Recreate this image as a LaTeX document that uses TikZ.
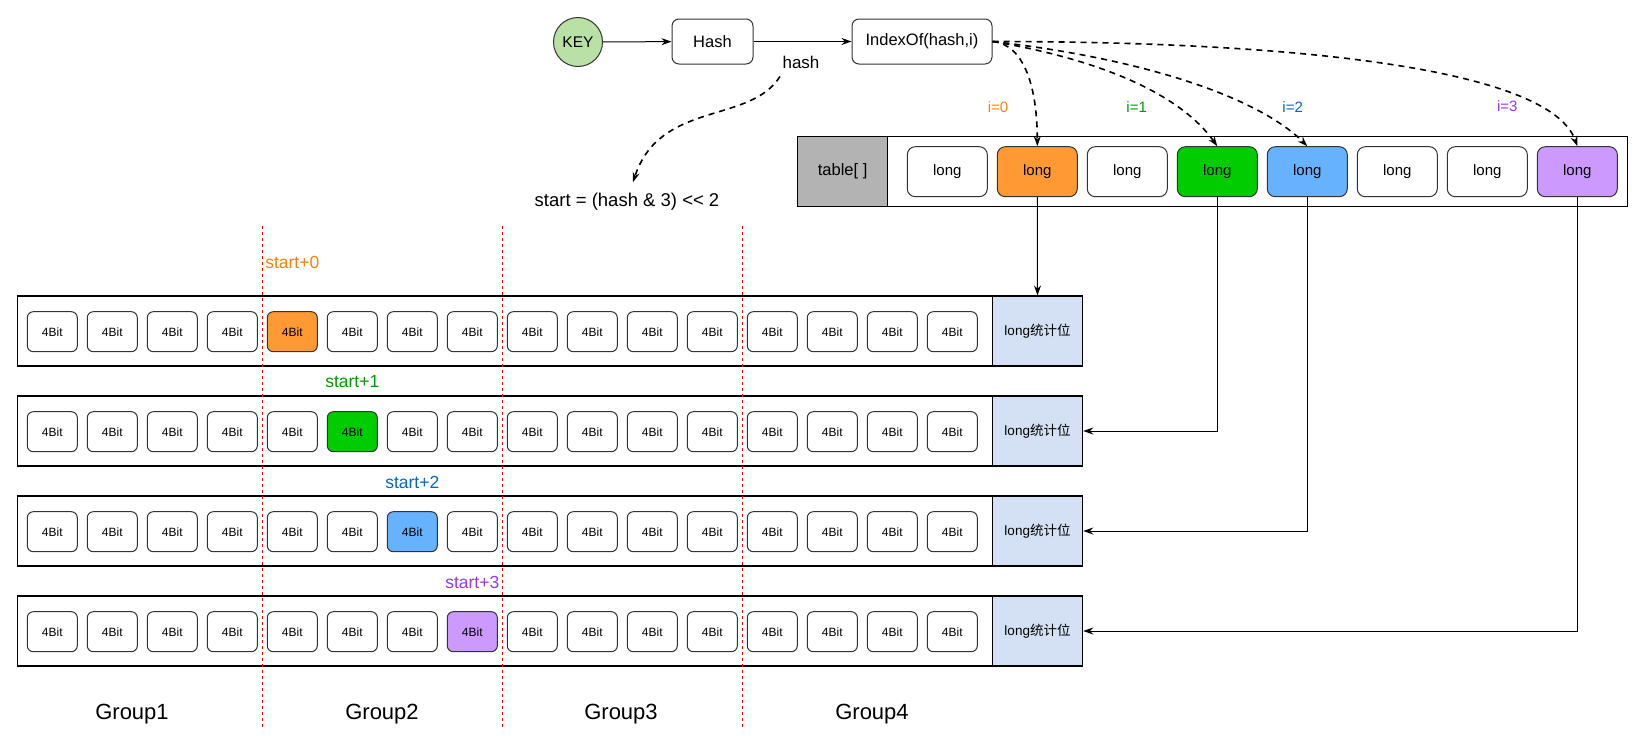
\documentclass[tikz,border=0pt]{standalone}
\usepackage{fontspec}
\setmainfont{Liberation Sans}
\newfontfamily\cjk{Noto Sans CJK SC}
\usetikzlibrary{arrows.meta,positioning,calc}

\definecolor{keyfill}{HTML}{B9E0A5}
\definecolor{orangec}{HTML}{FF9933}
\definecolor{greenc}{HTML}{00CC00}
\definecolor{bluec}{HTML}{66B2FF}
\definecolor{purplec}{HTML}{CC99FF}
\definecolor{orangeT}{HTML}{FF8000}
\definecolor{greenT}{HTML}{009900}
\definecolor{blueT}{HTML}{0066CC}
\definecolor{purpleT}{HTML}{9933FF}
\definecolor{cntfill}{HTML}{D4E1F5}
\definecolor{namefill}{HTML}{B3B3B3}

\newcommand{\fs}[1]{\fontsize{#1}{#1}\selectfont}

\begin{document}
\begin{tikzpicture}
                    [x=1pt,y=-1pt,>={Stealth[length=10pt,width=7pt]},
                     box/.style={draw=black!80,line width=1pt,rounded corners=7pt,inner sep=0pt},
                     bitbox/.style={box,rounded corners=6pt,minimum width=50pt,minimum height=40pt,font=\fs{12}},
                     longbox/.style={box,rounded corners=8pt,minimum width=80pt,minimum height=50pt,font=\fs{15}},
                     rowbox/.style={draw,line width=1.1pt,minimum width=1065.4pt,minimum height=70pt,inner sep=0pt},
                     cntbox/.style={draw,line width=1.1pt,fill=cntfill,minimum width=90.4pt,minimum height=70pt,inner sep=0pt,font=\fs{13.5}},
                     txt/.style={inner sep=0pt,font=\fs{16.5}},
                     ilbl/.style={inner sep=0pt,font=\fs{15}},
                     stlbl/.style={inner sep=0pt,font=\fs{17.5}},
                     dcurve/.style={->,line width=1.6pt,dash pattern=on 6pt off 5pt},
                     conn/.style={->,line width=1pt},
                     grpline/.style={red,line width=0.9pt,dash pattern=on 3pt off 3pt}]

                \useasboundingbox (0,0) rectangle (1644,744);

                % key -> hash -> index
                \node[circle,draw=black!80,line width=1pt,fill=keyfill,minimum size=49pt,inner sep=0pt,font=\fs{15.5}] (key) at (578,42) {KEY};
                \node[box,minimum width=81pt,minimum height=45pt,font=\fs{16.5}] (hash) at (712.5,41.5) {Hash};
                \node[box,minimum width=140pt,minimum height=45pt,font=\fs{16.5}] (idx) at (922,41.5) {IndexOf(hash,i)};
                \draw[conn] (key) -- (hash);
                \draw[conn] (hash) -- (idx);
                \node[txt,font=\fs{17}] (hashlbl) at (801,62) {hash};
                \node[txt,font=\fs{18.5}] (startf) at (627,202) {start = (hash \& 3) {<}{<} 2};
                \draw[dcurve] ($(hashlbl.south)+(-21,8)$) .. controls +(-30,48) and +(27,-82) .. ($(startf.north)+(6,-11)$);

                % table
                \node[draw,line width=1.1pt,minimum width=829.7pt,minimum height=70.7pt,inner sep=0pt] (table) at (1212.5,171.4) {};
                \node[draw,line width=1.1pt,fill=namefill,minimum width=90pt,minimum height=70.7pt,inner sep=0pt,anchor=west,font=\fs{16.5}] (tname) at (table.west) {table[ ]};
                \foreach \j/\c in {0/white,1/orangec,2/white,3/greenc,4/bluec,5/white,6/white,7/purplec}
                    \node[longbox,fill=\c] (long\j) at (947.3+90*\j,171.7) {long};

                \node[ilbl,text=orangeT] (i0) at (998,106.7) {i=0};
                \node[ilbl,text=greenT] (i1) at (1136.7,106.7) {i=1};
                \node[ilbl,text=blueT] (i2) at (1292.7,106.7) {i=2};
                \node[ilbl,text=purpleT] (i3) at (1507.3,106.2) {i=3};

                \draw[dcurve] (idx.east) .. controls +(33,3) and +(0,-56) .. (long1.north);
                \draw[dcurve] (idx.east) .. controls +(108,18) and +(-37,-52) .. (long3.north);
                \draw[dcurve] (idx.east) .. controls +(158,18) and +(-47,-47) .. (long4.north);
                \draw[dcurve] (idx.east) .. controls +(308,0) and +(-27,-77) .. (long7.north);

                % rows of counters
                \foreach \r/\c/\tc/\ly in {0/orangec/orangeT/262,1/greenc/greenT/382,2/bluec/blueT/482,3/purplec/purpleT/582}
                {
                    \node[rowbox] (row\r) at (550,331+100*\r) {};
                    \node[cntbox,anchor=east] (cnt\r) at (row\r.east) {long{\cjk 统计位}};
                    \foreach \k in {0,...,15}
                    {
                        \pgfmathtruncatemacro\hit{\k==4+\r}
                        \ifnum\hit=1 \def\f{\c}\else\def\f{white}\fi
                        \node[bitbox,fill=\f] (bit\r-\k) at (52.3+60*\k,331.7+100*\r) {4Bit};
                    }
                    \node[stlbl,text=\tc] (st\r) at (292.3+60*\r,\ly) {start+\r};
                }

                \draw[conn] (long1.south) -- (cnt0.north);
                \draw[conn] (long3.south) |- (cnt1.east);
                \draw[conn] (long4.south) |- (cnt2.east);
                \draw[conn] (long7.south) |- (cnt3.east);

                % groups
                \foreach \x in {262,502,742}
                    \draw[grpline] (\x,226) -- (\x,727);
                \foreach \g/\x in {1/132,2/382,3/621,4/872}
                    \node[inner sep=0pt,font=\fs{22},anchor=base] (grp\g) at (\x,719) {Group\g};

                \end{tikzpicture}
\end{document}
